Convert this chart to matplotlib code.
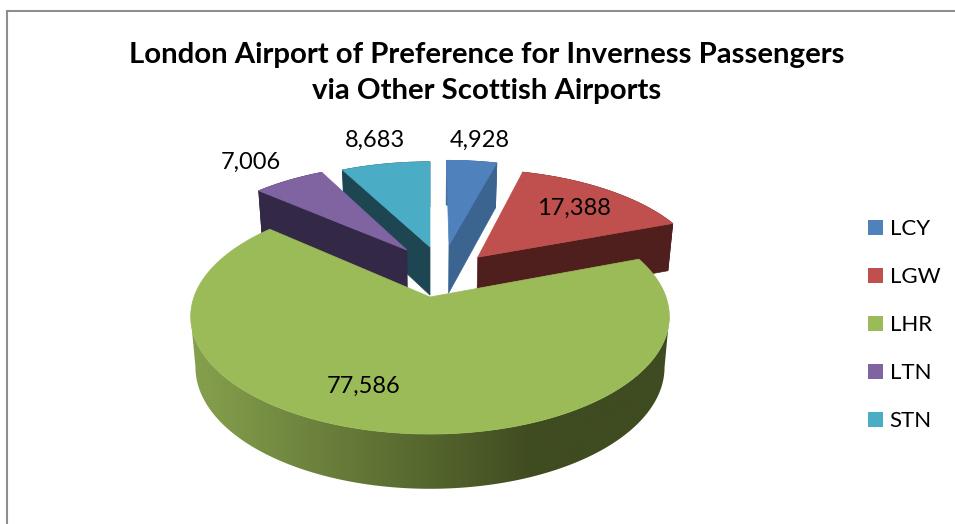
import numpy as np
import matplotlib
matplotlib.use('Agg')
import matplotlib.pyplot as plt
from matplotlib.patches import Patch, Polygon, Rectangle
from matplotlib.colors import to_rgb

categories = ['LCY', 'LGW', 'LHR', 'LTN', 'STN']
values = [4928, 17388, 77586, 7006, 8683]
value_labels = ['4,928', '17,388', '77,586', '7,006', '8,683']
title_text = 'London Airport of Preference for Inverness Passengers\nvia Other Scottish Airports'

colors = ['#4F81BD', '#C0504D', '#9BBB59', '#8064A2', '#4BACC6']
wall_colors = ['#3B6491', '#4F1F1E', '#3F4B20', '#332845', '#1E4552']
shifts = [(0.087, -0.492), (0.215, -0.37), (0.0, 0.0), (-0.105, -0.441), (0.0, -0.472)]
label_xy = [(480, 140), (574, 208), (364, 386), (251, 162), (375, 140)]

plt.rcParams['font.family'] = ['Lato', 'DejaVu Sans']

# pie plane -> screen, small perspective so the back edge is squeezed
CX, CY = 430, 297
RX, RY = 236, 114.3
P = 0.166
DEPTH = 50
SHRINK = 0.98


def project(u, v, drop=False):
    w = 1 - P * v
    x = CX + RX * u / w
    y = CY + RY * v / w
    if drop:
        x = CX + (x - CX) * SHRINK
        y = y + DEPTH / np.sqrt(w)
    return x, y


def arc(a0, a1, shift, drop=False):
    t = np.radians(np.linspace(a0, a1, max(int(a1 - a0) * 2, 2) + 1))
    return project(shift[0] + np.sin(t), shift[1] - np.cos(t), drop)


def small_slice(ax, a0, a1, shift, color, wall):
    x, y = arc(a0, a1, shift)
    xb, yb = arc(a0, a1, shift, True)
    ax0, ay0 = project(shift[0], shift[1])
    ax1, ay1 = project(shift[0], shift[1], True)
    # only the cut face turned to the viewer shows
    i = -1 if (a0 + a1) / 2 < 180 else 0
    q = np.array([[x[i], y[i]], [ax0, ay0], [ax1, ay1], [xb[i], yb[i]]])
    ax.add_patch(Polygon(np.column_stack([np.r_[x, xb[::-1]], np.r_[y, yb[::-1]]]), fc=wall, ec=wall, lw=0.5))
    ax.add_patch(Polygon(q, fc=wall, ec=wall, lw=0.5))
    ax.add_patch(Polygon(np.column_stack([np.r_[ax0, x], np.r_[ay0, y]]), fc=color, ec=color, lw=0.5))


def big_slice(ax, a0, a1, shift, color, wall):
    x, y = arc(a0, a1, shift)
    xb, yb = arc(a0, a1, shift, True)
    # front wall: smooth light to dark sweep, clipped to the front part of the rim
    light = np.array(to_rgb('#86A14D'))
    dark = np.array(to_rgb(wall))
    f = np.clip((np.arange(191, 671) - 191) / (535 - 191), 0, 1)[:, None]
    grad = (light * (1 - f) + dark * f)[None, :, :]
    r, l = np.argmax(x), np.argmin(x)
    outline = Polygon(np.column_stack([np.r_[x[r:l + 1], xb[r:l + 1][::-1]], np.r_[y[r:l + 1], yb[r:l + 1][::-1]]]),
                      fc='none', ec='none', transform=ax.transData)
    ax.add_patch(outline)
    im = ax.imshow(grad, extent=(191, 671, 520, 280), aspect='auto', interpolation='bilinear', zorder=2)
    im.set_clip_path(outline)
    ax0, ay0 = project(shift[0], shift[1])
    ax.add_patch(Polygon(np.column_stack([np.r_[ax0, x], np.r_[ay0, y]]), fc=color, ec=color, lw=0.5, zorder=3))


fig = plt.figure(figsize=(9.55, 5.24), dpi=100)
ax = fig.add_axes([0, 0, 1, 1])
ax.axis('off')

ax.add_patch(Rectangle((7, 11), 1000, 600, fc='white', ec='#8E8E8E', lw=1.5, zorder=0))

ends = np.cumsum(values) / np.sum(values) * 360
starts = np.r_[0, ends[:-1]]

for i in [4, 3, 0, 1]:
    small_slice(ax, starts[i], ends[i], shifts[i], colors[i], wall_colors[i])
big_slice(ax, starts[2], ends[2], shifts[2], colors[2], wall_colors[2])

ax.set_xlim(0, 955)
ax.set_ylim(524, 0)

for txt, (x, y) in zip(value_labels, label_xy):
    ax.text(x, y, txt, fontsize=17, ha='center', va='center', color='black', zorder=5)

ax.text(487, 73, title_text, fontsize=21.2, fontweight='bold', ha='center', va='center',
        linespacing=1.45, color='black')

handles = [Patch(fc=c, ec='none') for c in colors]
ax.legend(handles, categories, loc='center left', bbox_to_anchor=(868 / 955, 1 - 325 / 524),
          frameon=False, fontsize=16, handlelength=0.675, handleheight=0.675,
          handletextpad=0.3, labelspacing=1.26, borderpad=0, borderaxespad=0)

fig.savefig('out.png', dpi=100)
